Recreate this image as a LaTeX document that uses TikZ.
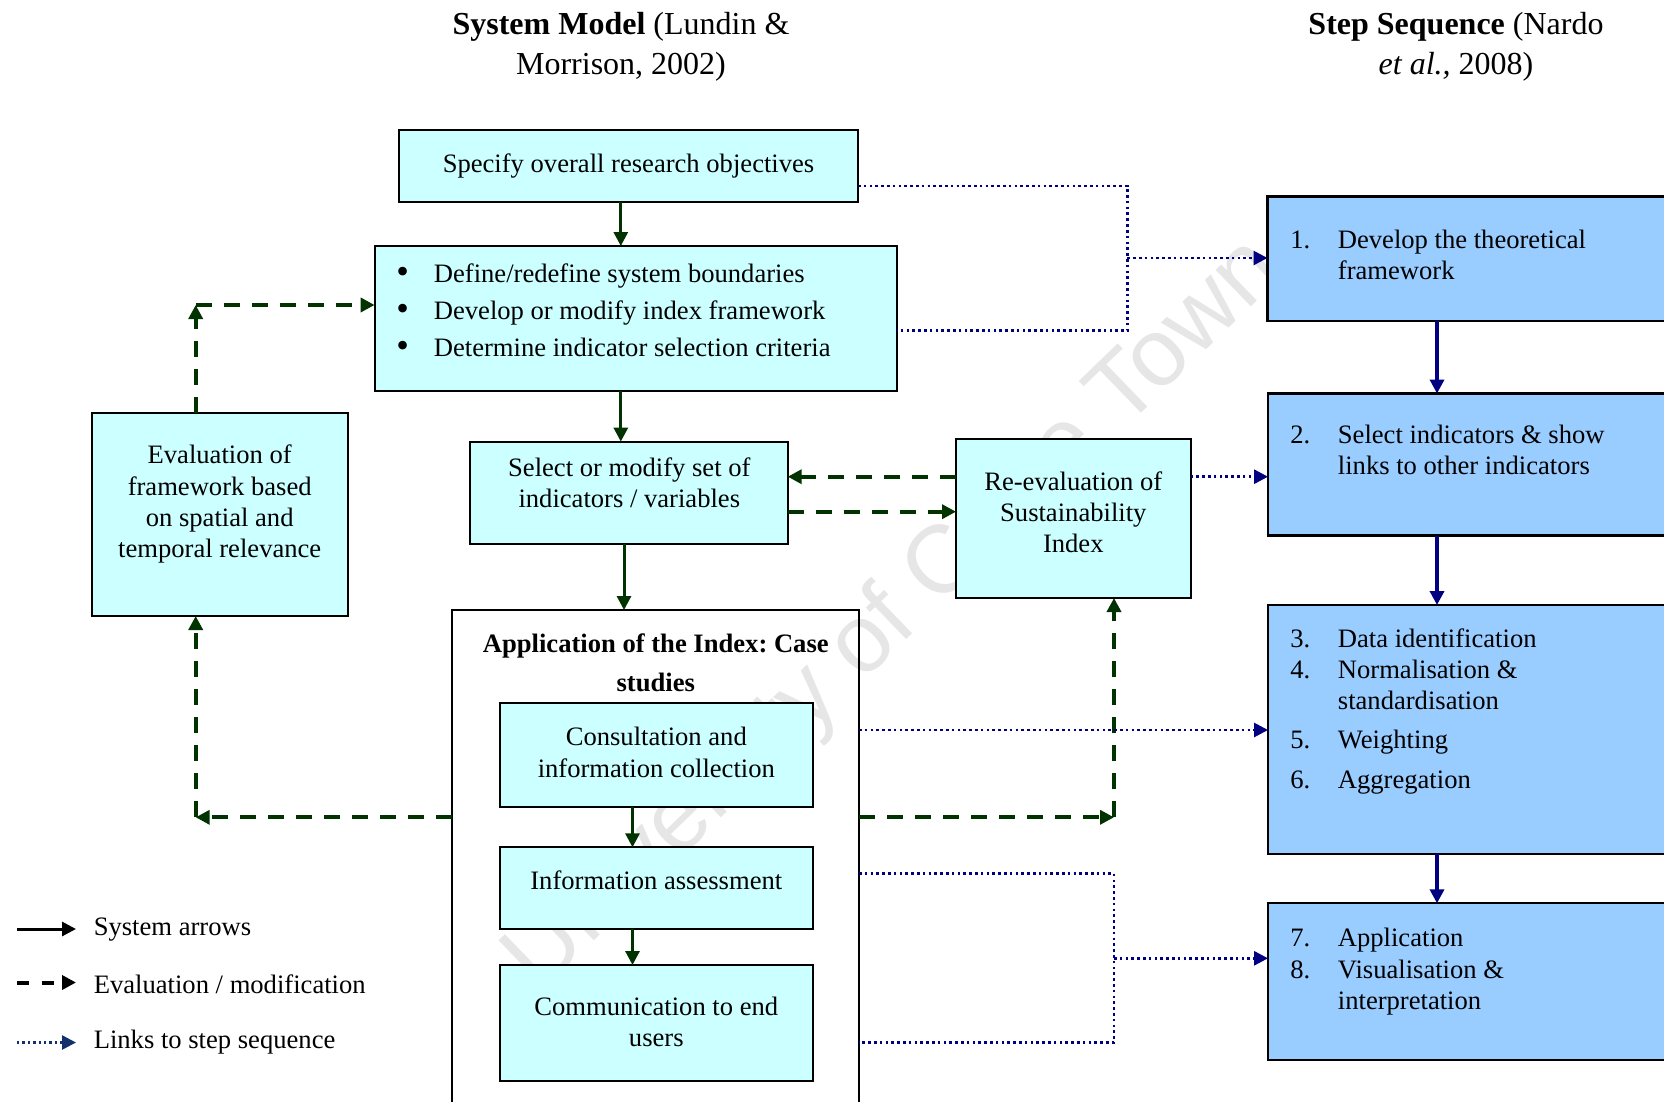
\documentclass[tikz,border=0pt]{standalone}
\usepackage{fontspec}
\setmainfont{Liberation Serif}
\newfontfamily\wmfont{Liberation Sans}
\usetikzlibrary{arrows.meta,calc}
\definecolor{boxcyan}{HTML}{CCFFFF}
\definecolor{stepblue}{HTML}{99CCFF}
\definecolor{dkgreen}{HTML}{003300}
\definecolor{linknavy}{HTML}{000080}
\definecolor{legnavy}{HTML}{10306E}
\definecolor{wmgray}{HTML}{E6E6E6}
\newcommand{\bigbul}{\raisebox{-0.05em}{\fontsize{18}{18}\selectfont\textbullet}}
\begin{document}
\frenchspacing
\begin{tikzpicture}[x=0.5pt,y=-0.5pt,
  cbox/.style={draw=black,line width=1pt,fill=boxcyan,inner sep=0pt,outer sep=0pt},
  sbox/.style={draw=black,line width=1.1pt,fill=stepblue,inner sep=0pt,outer sep=0pt},
  txt/.style={inner sep=0pt,font=\fontsize{13.3}{15.6}\selectfont,align=center},
  ltxt/.style={inner sep=0pt,font=\fontsize{13.3}{15.6}\selectfont},
  tip/.style={-{Triangle[length=7pt,width=7pt]}},
  sysarrow/.style={draw=dkgreen,line width=1.5pt,tip},
  evalarrow/.style={draw=dkgreen,line width=2pt,dash pattern=on 8pt off 6pt,tip},
  linkline/.style={draw=linknavy,line width=1.4pt,dash pattern=on 1.3pt off 1.6pt},
  linkarrow/.style={linkline,tip},
  steparrow/.style={draw=linknavy,line width=2pt,tip},
]
\useasboundingbox (0,0) rectangle (1664,1102);
\clip (0,0) rectangle (1664,1102);

% watermark
\node[rotate=44,text=wmgray,font=\wmfont\fontsize{48}{48}\selectfont] (wm) at (895,616) {University of Cape Town};

% titles
\node[inner sep=0pt,align=center,font=\fontsize{16}{20.2}\selectfont] (title1) at (621,47) {\textbf{System Model} (Lundin \&\\Morrison, 2002)};
\node[inner sep=0pt,align=center,font=\fontsize{16}{20.2}\selectfont] (title2) at (1456,47) {\textbf{Step Sequence} (Nardo\\\textit{et al.,} 2008)};

% system model boxes
\node[cbox,minimum width=229.5pt,minimum height=35.5pt,font=\fontsize{13.3}{15.6}\selectfont] (spec) at (628.5,166) {Specify overall research objectives};
\node[cbox,minimum width=261.05pt,minimum height=72.25pt] (bul) at (635.65,318.25) {};
\node[anchor=base west,inner sep=0pt,font=\fontsize{13.3}{18.5}\selectfont] (bultxt) at (396,282)
  {\begin{tabular}[t]{@{}p{18.75pt}@{}l@{}}\bigbul & Define/redefine system boundaries\\ \bigbul & Develop or modify index framework\\ \bigbul & Determine indicator selection criteria\end{tabular}};

\node[cbox,minimum width=127.6pt,minimum height=101.5pt] (eval) at (219.9,514.5) {};
\node[txt] (evaltxt) at (219.7,504.2) {Evaluation of\\framework based\\on spatial and\\temporal relevance};

\node[cbox,minimum width=158.85pt,minimum height=51.1pt] (sel) at (628.85,492.7) {};
\node[txt] (seltxt) at (629.3,483) {Select or modify set of\\indicators / variables};

\node[cbox,minimum width=117.25pt,minimum height=79.35pt] (reev) at (1073.25,518.65) {};
\node[txt] (reevtxt) at (1073.3,512) {Re-evaluation of\\Sustainability\\Index};

\node[draw=black,line width=1pt,inner sep=0pt,outer sep=0pt,minimum width=203.6pt,minimum height=260pt] (app) at (655.4,870) {};
\node[inner sep=0pt,align=center,font=\bfseries\fontsize{13.3}{19.7}\selectfont] (apptxt) at (655.8,662.7) {Application of the Index: Case\\studies};

\node[cbox,minimum width=156.25pt,minimum height=51.75pt] (cons) at (656.25,754.75) {};
\node[txt] (constxt) at (656.3,752.4) {Consultation and\\information collection};
\node[cbox,minimum width=156.25pt,minimum height=40.85pt] (info) at (656.25,888.15) {};
\node[txt] (infotxt) at (656.3,880.5) {Information assessment};
\node[cbox,minimum width=156.25pt,minimum height=57.75pt] (comm) at (656.25,1022.75) {};
\node[txt] (commtxt) at (656.3,1022) {Communication to end\\users};

% step sequence boxes
\node[sbox,minimum width=226.25pt,minimum height=62.25pt] (s1) at (1493.75,258.75) {};
\node[anchor=base west,inner sep=0pt,font=\fontsize{13.3}{15.9}\selectfont] (s1txt) at (1290,248)
  {\begin{tabular}[t]{@{}p{23.75pt}@{}l@{}}1. & Develop the theoretical\\ & framework\end{tabular}};
\node[sbox,minimum width=226pt,minimum height=71pt] (s2) at (1494,464.5) {};
\node[anchor=base west,inner sep=0pt,font=\fontsize{13.3}{15.5}\selectfont] (s2txt) at (1290,443.5)
  {\begin{tabular}[t]{@{}p{23.75pt}@{}l@{}}2. & Select indicators \& show\\ & links to other indicators\end{tabular}};
\node[sbox,minimum width=226pt,minimum height=124.5pt] (s3) at (1494,729.5) {};
\node[anchor=base west,inner sep=0pt,font=\fontsize{13.3}{15.7}\selectfont] (s3txt) at (1290,647)
  {\begin{tabular}[t]{@{}p{23.75pt}@{}l@{}}3. & Data identification\\ 4. & Normalisation \&\\ & standardisation\\[3.4pt] 5. & Weighting\\[4.4pt] 6. & Aggregation\end{tabular}};
\node[sbox,minimum width=226pt,minimum height=78.35pt] (s4) at (1494,981.65) {};
\node[anchor=base west,inner sep=0pt,font=\fontsize{13.3}{15.8}\selectfont] (s4txt) at (1290,946.5)
  {\begin{tabular}[t]{@{}p{23.75pt}@{}l@{}}7. & Application\\ 8. & Visualisation \&\\ & interpretation\end{tabular}};

% helper coordinates
\coordinate (xA) at (620.8,0);
\coordinate (xB) at (624,0);
\coordinate (xC) at (632.5,0);
\coordinate (xS) at (1437,0);
\coordinate (xL) at (195.7,0);
\coordinate (xR) at (1114,0);
\coordinate (xT) at (1127.3,0);
\coordinate (yTop) at (0,186);
\coordinate (yBul) at (0,330.7);
\coordinate (yS1) at (0,258);
\coordinate (yUp) at (0,305);
\coordinate (yRe1) at (0,476.7);
\coordinate (yRe2) at (0,511.7);
\coordinate (yLow) at (0,817.3);
\coordinate (yCons) at (0,730);
\coordinate (yInfo) at (0,873.5);
\coordinate (yComm) at (0,1042.3);
\coordinate (yS4) at (0,958.3);

% system arrows
\draw[sysarrow] (spec.south -| xA) -- (bul.north -| xA);
\draw[sysarrow] (bul.south -| xA) -- (sel.north -| xA);
\draw[sysarrow] (sel.south -| xB) -- (app.north -| xB);
\draw[sysarrow] (cons.south -| xC) -- (info.north -| xC);
\draw[sysarrow] (info.south -| xC) -- (comm.north -| xC);

% step arrows
\draw[steparrow] (s1.south -| xS) -- (s2.north -| xS);
\draw[steparrow] (s2.south -| xS) -- (s3.north -| xS);
\draw[steparrow] (s3.south -| xS) -- (s4.north -| xS);

% evaluation / modification
\coordinate (cUL) at (xL |- yUp);
\draw[evalarrow] (eval.north -| xL) -- (cUL);
\draw[evalarrow] (cUL) -- (bul.west |- yUp);
\draw[evalarrow] (reev.west |- yRe1) -- (sel.east |- yRe1);
\draw[evalarrow] (sel.east |- yRe2) -- (reev.west |- yRe2);
\coordinate (cLL) at (xL |- yLow);
\draw[evalarrow] (app.west |- yLow) -- (cLL);
\draw[evalarrow] (cLL) -- (eval.south -| xL);
\coordinate (cLR) at (xR |- yLow);
\draw[evalarrow] (app.east |- yLow) -- (cLR);
\draw[evalarrow] (cLR) -- (reev.south -| xR);

% links to step sequence
\coordinate (cT1) at (xT |- yTop);
\coordinate (cT2) at (xT |- yBul);
\coordinate (cT3) at (xT |- yS1);
\draw[linkline] (spec.east |- yTop) -- (cT1) -- (cT2) -- (bul.east |- yBul);
\draw[linkarrow] (cT3) -- (s1.west |- yS1);
\draw[linkarrow] (reev.east |- yRe1) -- (s2.west |- yRe1);
\draw[linkarrow] (app.east |- yCons) -- (s3.west |- yCons);
\coordinate (cB1) at (xR |- yInfo);
\coordinate (cB2) at (xR |- yComm);
\coordinate (cB3) at (xR |- yS4);
\draw[linkline] (app.east |- yInfo) -- (cB1) -- (cB2) -- (app.east |- yComm);
\draw[linkarrow] (cB3) -- (s4.west |- yS4);

% legend
\coordinate (l1a) at (17,929);
\coordinate (l1b) at (76,929);
\coordinate (l2a) at (17,982.5);
\coordinate (l2b) at (76,982.5);
\coordinate (l3a) at (17,1042.5);
\coordinate (l3b) at (76,1042.5);
\draw[draw=black,line width=1.5pt,tip] (l1a) -- (l1b);
\draw[draw=black,line width=2pt,dash pattern=on 6pt off 6.5pt,tip] (l2a) -- (l2b);
\draw[draw=legnavy,line width=1.3pt,dash pattern=on 1.2pt off 1.5pt,tip] (l3a) -- (l3b);
\node[ltxt,anchor=west] (leg1) at (93.4,929.5) {System arrows};
\node[ltxt,anchor=west] (leg2) at (93.4,984.5) {Evaluation / modification};
\node[ltxt,anchor=west] (leg3) at (93.4,1042) {Links to step sequence};
\end{tikzpicture}
\end{document}
